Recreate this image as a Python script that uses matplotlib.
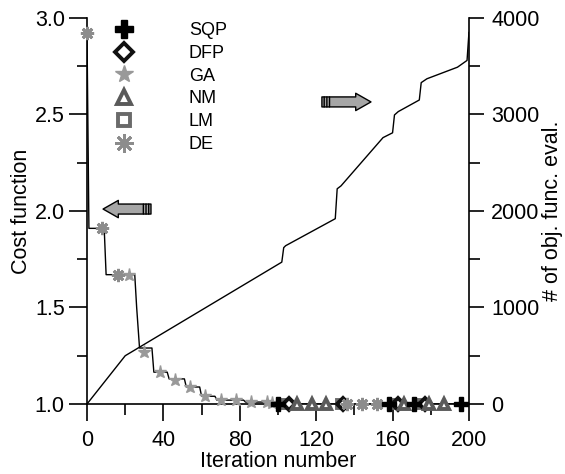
import matplotlib
matplotlib.use("Agg")
import matplotlib.pyplot as plt
from matplotlib.patches import FancyArrowPatch
from matplotlib.ticker import MultipleLocator
from matplotlib.transforms import offset_copy

plt.rcParams['font.family'] = ['Liberation Sans', 'DejaVu Sans']

# cost function curve (left axis)
cost_x = [0, 1, 9, 10, 25, 26, 27.5, 34, 35, 42, 43, 51, 52, 59, 60, 67, 68, 82, 83, 98, 100, 200]
cost_y = [2.92, 1.91, 1.91, 1.67, 1.67, 1.50, 1.29, 1.29, 1.165, 1.165, 1.13, 1.13, 1.088, 1.088,
          1.04, 1.04, 1.02, 1.02, 1.01, 1.01, 1.0, 1.0]

# number of objective function evaluations (right axis)
eval_x = [0, 20, 102, 103, 104, 130, 131, 133, 155, 160, 161, 163, 174, 175, 178, 194, 199, 200]
eval_y = [0, 500, 1470, 1620, 1640, 1920, 2230, 2260, 2760, 2810, 2995, 3030, 3150, 3330, 3370,
          3490, 3560, 3850]

# method markers along the cost curve
sqp_x = [100, 158, 171, 196]
sqp_y = [1.0, 1.0, 1.0, 1.0]
dfp_x = [106, 134, 163, 177]
dfp_y = [1.0, 1.0, 1.0, 1.0]
ga_x = [22, 30, 38, 46, 54, 62, 70, 78, 86, 94, 97]
ga_y = [1.67, 1.27, 1.165, 1.125, 1.088, 1.04, 1.02, 1.02, 1.01, 1.01, 1.005]
nm_x = [110, 118, 125, 166, 179, 187]
nm_y = [1.0, 1.0, 1.0, 1.0, 1.0, 1.0]
lm_x = [104, 133, 161, 175]
lm_y = [1.0, 1.0, 1.0, 1.0]
de_x = [0, 8, 16, 136, 144, 152]
de_y = [2.92, 1.91, 1.67, 1.0, 1.0, 1.0]

fig = plt.figure(figsize=(5.65, 4.74), dpi=100)
ax = fig.add_axes([0.154, 0.1477, 0.676, 0.8144])
ax2 = ax.twinx()
ax.set_zorder(ax2.get_zorder() + 1)
ax.patch.set_visible(False)

ax2.plot(eval_x, eval_y, color='black', lw=1.0)
ax.plot(cost_x, cost_y, color='black', lw=1.0)

ax.plot(lm_x, lm_y, 's', ls='none', ms=6.3, mfc='white', mec='#6a6a6a', mew=2.8,
        label='LM', clip_on=False, zorder=3)
ax.plot(dfp_x, dfp_y, 'D', ls='none', ms=6.5, mfc='white', mec='#111111', mew=2.8,
        label='DFP', clip_on=False, zorder=3)
ax.plot(nm_x, nm_y, '^', ls='none', ms=6.8, mfc='white', mec='#5a5a5a', mew=2.8,
        label='NM', clip_on=False, zorder=3)
ax.plot(ga_x, ga_y, '*', ls='none', ms=9.5, color='#999999', mec='#999999',
        label='GA', clip_on=False, zorder=4)
ax.plot(de_x, de_y, marker=(8, 2, 0), ls='none', ms=9.5, color='#8c8c8c', mew=2,
        label='DE', clip_on=False, zorder=4)
ax.plot(sqp_x, sqp_y, 'P', ls='none', ms=9.5, color='black',
        label='SQP', clip_on=False, zorder=4)

handles, labels = ax.get_legend_handles_labels()
order = ['SQP', 'DFP', 'GA', 'NM', 'LM', 'DE']
hmap = dict(zip(labels, handles))
leg = ax.legend([hmap[k] for k in order], order, loc='upper left',
                bbox_to_anchor=(0.03, 1.008), frameon=False, fontsize=13,
                markerscale=1.4, handlelength=2.0, handletextpad=2.6,
                labelspacing=0.32, borderaxespad=0)

ax.set_xlim(0, 200)
ax.set_ylim(1.0, 3.0)
ax2.set_ylim(0, 4000)

ax.xaxis.set_major_locator(MultipleLocator(40))
ax.xaxis.set_minor_locator(MultipleLocator(20))
ax.yaxis.set_major_locator(MultipleLocator(0.5))
ax.yaxis.set_minor_locator(MultipleLocator(0.25))
ax2.yaxis.set_major_locator(MultipleLocator(1000))
ax2.yaxis.set_minor_locator(MultipleLocator(500))
ax.yaxis.set_major_formatter(plt.FormatStrFormatter('%.1f'))

for s in ['top', 'right']:
    ax.spines[s].set_visible(False)
for s in ['top', 'left', 'bottom']:
    ax2.spines[s].set_visible(False)
for sp in [ax.spines['left'], ax.spines['bottom'], ax2.spines['right']]:
    sp.set_linewidth(1.2)

ax.tick_params(axis='x', which='major', direction='out', length=12, width=1.2, labelsize=15.5, pad=7)
ax.tick_params(axis='x', which='minor', direction='out', length=8, width=1.2)
ax.tick_params(axis='y', which='major', direction='out', length=13, width=1.2, labelsize=15.5, pad=3)
ax.tick_params(axis='y', which='minor', direction='out', length=7, width=1.2)
ax2.tick_params(axis='y', which='major', direction='out', length=11, width=1.2, labelsize=15.5, pad=5)
ax2.tick_params(axis='y', which='minor', direction='out', length=8, width=1.2)

ax.set_xlabel('Iteration number', fontsize=15.5)
ax.xaxis.set_label_coords(0.5, -0.122)
ax.set_ylabel('Cost function', fontsize=15.5)
ax.yaxis.set_label_coords(-0.145, 0.5)
ax2.set_ylabel('# of obj. func. eval.', fontsize=15.5, labelpad=2)

# block arrows pointing at the relevant axes, with stripes at the tail
def block_arrow(axis, tail, head):
    arr = FancyArrowPatch(tail, head, arrowstyle='simple,head_length=1.1,head_width=1.25,tail_width=0.72',
                          mutation_scale=10, fc='#a6a6a6', ec='black', lw=1.0,
                          shrinkA=0, shrinkB=0, zorder=5)
    axis.add_patch(arr)
    sign = 1 if tail[0] > head[0] else -1
    top = offset_copy(axis.transData, fig=fig, y=3.6, units='points')
    bot = offset_copy(axis.transData, fig=fig, y=-3.6, units='points')
    for d in [1.2, 2.6, 4.0]:
        xs = tail[0] - sign * d
        axis.annotate('', xy=(xs, tail[1]), xycoords=top,
                      xytext=(xs, tail[1]), textcoords=bot,
                      arrowprops=dict(arrowstyle='-', color='black', lw=1.0,
                                      shrinkA=0, shrinkB=0), zorder=6)
    return arr

block_arrow(ax, (33.5, 2.01), (8.4, 2.01))
block_arrow(ax2, (123, 3130), (148.7, 3130))

fig.savefig('out.png', dpi=100)
